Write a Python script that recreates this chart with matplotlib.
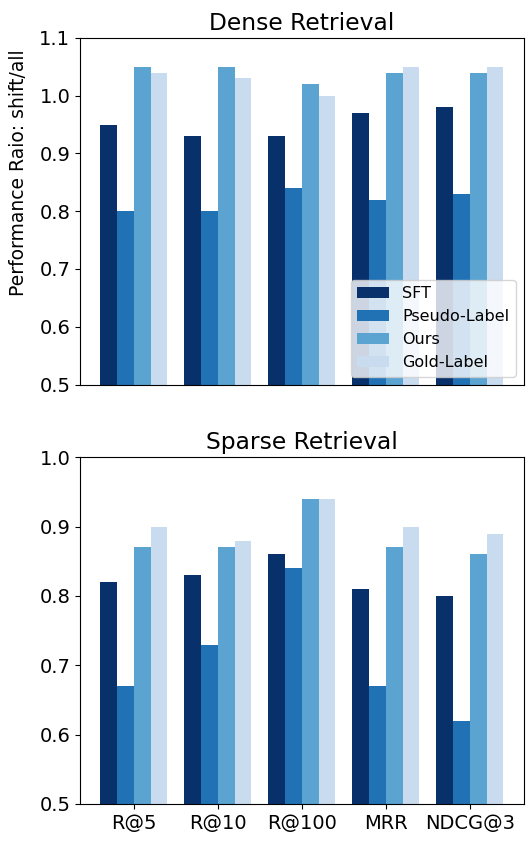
import matplotlib
matplotlib.use("Agg")
import matplotlib.pyplot as plt
import numpy as np

metrics = ["R@5", "R@10", "R@100", "MRR", "NDCG@3"]
methods = ["SFT", "Pseudo-Label", "Ours", "Gold-Label"]

dense_sft = [0.95, 0.93, 0.93, 0.97, 0.98]
dense_pseudo = [0.80, 0.80, 0.84, 0.82, 0.83]
dense_ours = [1.05, 1.05, 1.02, 1.04, 1.04]
dense_gold = [1.04, 1.03, 1.00, 1.05, 1.05]

sparse_sft = [0.82, 0.83, 0.86, 0.81, 0.80]
sparse_pseudo = [0.67, 0.73, 0.84, 0.67, 0.62]
sparse_ours = [0.87, 0.87, 0.94, 0.87, 0.86]
sparse_gold = [0.90, 0.88, 0.94, 0.90, 0.89]

colors = ["#08306b", "#2171b5", "#5ba3d0", "#c9dcef"]

fig, (ax1, ax2) = plt.subplots(2, 1, figsize=(5.3, 8.41), dpi=100)

x = np.arange(len(metrics))
width = 0.2


def draw(ax, series, title, ylim, yticks):
    for i, (vals, name) in enumerate(zip(series, methods)):
        ax.bar(x + (i - 1.5) * width, vals, width, label=name, color=colors[i])
    ax.set_title(title, fontsize=16.8)
    ax.set_ylim(*ylim)
    ax.set_yticks(yticks)
    ax.tick_params(labelsize=14)


draw(ax1, [dense_sft, dense_pseudo, dense_ours, dense_gold], "Dense Retrieval",
     (0.5, 1.1), np.arange(0.5, 1.11, 0.1))
draw(ax2, [sparse_sft, sparse_pseudo, sparse_ours, sparse_gold], "Sparse Retrieval",
     (0.5, 1.0), np.arange(0.5, 1.01, 0.1))

# top panel: no x ticks
ax1.set_xticks([])
ax1.set_xlim(ax2.get_xlim())

ax1.set_ylabel("Performance Raio: shift/all", fontsize=13.5)
ax1.yaxis.set_label_coords(-0.118, 0.61)
ax1.legend(loc="lower right", fontsize=11.5)
ax2.set_xticks(x)
ax2.set_xticklabels(metrics)

plt.subplots_adjust(left=0.151, right=0.988, top=0.955, bottom=0.044, hspace=0.21)
plt.savefig("out.png")
